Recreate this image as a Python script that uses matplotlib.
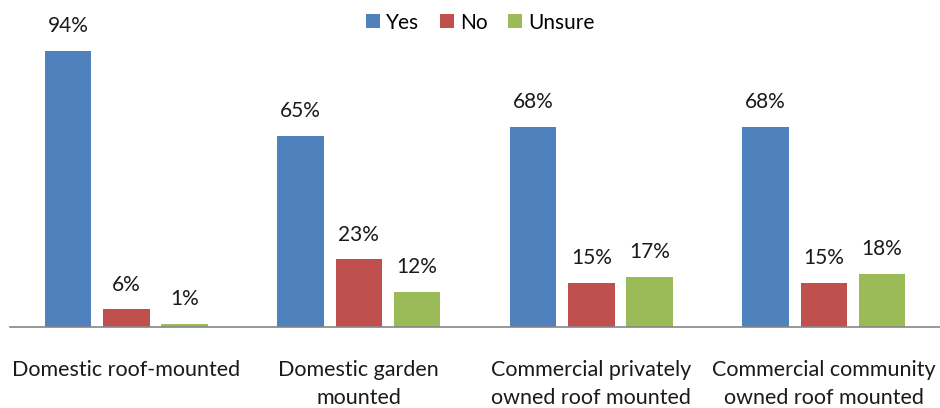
import numpy as np
import matplotlib.pyplot as plt

plt.rcParams['font.family'] = ['Lato', 'DejaVu Sans']

# 응답 데이터 (%)
CATEGORIES = ["Domestic roof-mounted", "Domestic garden\nmounted",
              "Commercial privately\nowned roof mounted", "Commercial community\nowned roof mounted"]
SERIES = ["Yes", "No", "Unsure"]
YES = [94, 65, 68, 68]
NO = [6, 23, 15, 15]
UNSURE = [1, 12, 17, 18]
COLORS = ["#4F81BD", "#C0504D", "#9BBB59"]


def main():
    fig = plt.figure(figsize=(9.4, 4.08), dpi=100)
    ax = fig.add_axes([10 / 940, (408 - 327) / 408, 930 / 940, 294 / 408])

    x = np.arange(len(CATEGORIES))
    width = 0.2
    offsets = [-0.25, 0, 0.25]
    for vals, name, off, color in zip([YES, NO, UNSURE], SERIES, offsets, COLORS):
        bars = ax.bar(x + off, vals, width, color=color, label=name, zorder=2)
        for b, v in zip(bars, vals):
            ax.text(b.get_x() + b.get_width() / 2, v + 5.0, f"{v}%",
                    ha="center", va="bottom", fontsize=15, color="#1a1a1a")

    ax.set_xlim(-0.5, 3.5)
    ax.set_ylim(0, 100)
    ax.set_yticks([])
    ax.set_xticks(x)
    ax.set_xticklabels(CATEGORIES, fontsize=15.5, color="#1a1a1a", linespacing=1.45)
    ax.tick_params(axis="x", length=0, pad=24)
    for s in ["top", "right", "left"]:
        ax.spines[s].set_visible(False)
    ax.spines["bottom"].set_color("#868686")
    ax.spines["bottom"].set_linewidth(1.2)

    fig.legend(loc="upper center", bbox_to_anchor=(0.511, 1.015), ncol=3, frameon=False,
               fontsize=15, handlelength=0.65, handleheight=0.65, handletextpad=0.3,
               columnspacing=1.0)

    fig.savefig("out.png", dpi=100)
    plt.close(fig)


if __name__ == "__main__":
    main()
